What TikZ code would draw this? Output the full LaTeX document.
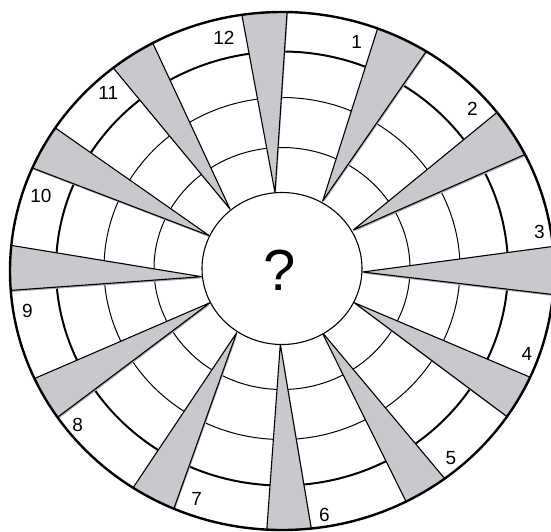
\documentclass[tikz,border=0pt]{standalone}
\usepackage{fontspec}
\setmainfont{Liberation Sans}
\usetikzlibrary{calc}
\definecolor{wedgegray}{RGB}{200,201,204}
\definecolor{shadowgray}{RGB}{172,172,175}
\tikzset{
    thinring/.style={line width=1pt},
    thickring/.style={line width=2pt},
    rimline/.style={line width=2.4pt},
    hubline/.style={line width=1.1pt, fill=white},
    wedgefill/.style={fill=wedgegray},
    wedgeshadow/.style={fill=shadowgray},
    wedgeedge/.style={line width=1.1pt, line join=round},
    numlabel/.style={font=\fontsize{19}{19}\selectfont, inner sep=0pt},
    hublabel/.style={font=\fontsize{58}{58}\selectfont, inner sep=0pt}
}

\begin{document}
\begin{tikzpicture}[x=1pt, y=-1pt]
    \useasboundingbox (0,0) rectangle (551,531);
    \clip (0,0) rectangle (551,531);
    \coordinate (hub) at (282,268.5);
    \coordinate (rim) at (282,271);

    % Rings
    \draw[thinring] (hub) ellipse [x radius=128pt, y radius=121pt];
    \draw[thinring] (hub) ellipse [x radius=178pt, y radius=171pt];
    \draw[thickring] (hub) ellipse [x radius=226pt, y radius=217pt];

    % Wedges (apex / two outer corners)
    \begin{scope}
        \clip (rim) ellipse [x radius=272pt, y radius=259pt];
        \foreach \ax/\ay/\bx/\by/\cx/\cy [count=\i] in {
            275/192.7/241.7/14/287/13.3,
            322.7/201/377.7/28.3/426/51.7,
            353.3/230/498.7/111/526/154,
            362.7/272/551/246.7/551/294.3,
            354.3/302.7/532.7/378.3/509.3/418.3,
            321.7/331.7/446.7/481/408.3/506,
            280.3/344.3/311.7/531/266.7/531,
            236.7/332.7/132.7/488.3/174/508.3,
            210/302.7/35/378.3/58.3/416.7,
            201.7/276.7/13.3/245.7/11.7/290.3,
            209.3/235.7/55/127.7/33.3/168.3,
            230/209/115/70/154/45.7} {
            \coordinate (a\i) at (\ax,\ay);
            \coordinate (b\i) at ($(a\i)!1.15!(\bx,\by)$);
            \coordinate (c\i) at ($(a\i)!1.15!(\cx,\cy)$);
            \fill[wedgeshadow] ([xshift=0.8pt,yshift=-1.6pt]a\i) -- ([xshift=0.8pt,yshift=-1.6pt]b\i)
                -- ([xshift=0.8pt,yshift=-1.6pt]c\i) -- cycle;
            \fill[wedgefill] (a\i) -- (b\i) -- (c\i) -- cycle;
            \draw[wedgeedge] (b\i) -- (a\i) -- (c\i);
        }
    \end{scope}

    % Hub and rim
    \draw[hubline] (hub) ellipse [x radius=80pt, y radius=76pt];
    \draw[rimline] (rim) ellipse [x radius=272pt, y radius=259pt];

    % Sector numbers
    \foreach \t/\x/\y in {12/224/38.3, 1/356.7/41.7, 2/472.5/109, 3/539.3/232,
        4/527/354, 5/451/458.3, 6/324.3/515, 7/196.7/498.7,
        8/77.7/425, 9/27.3/311, 10/41/196, 11/108.3/93.3} {
        \node[numlabel] (n\t) at (\x,\y) {\t};
    }
    \node[hublabel] (query) at (280,270) {?};
\end{tikzpicture}
\end{document}
